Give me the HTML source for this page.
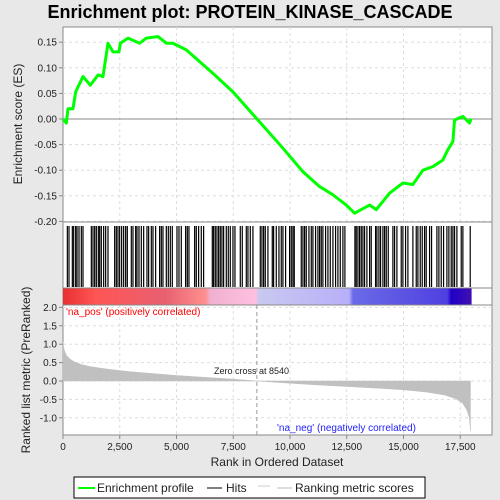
<!DOCTYPE html>
<html><head><meta charset="utf-8"><style>
html,body{margin:0;padding:0;background:#e8e8e8;}
svg{display:block;font-family:"Liberation Sans","DejaVu Sans",sans-serif;}
</style></head><body>
<svg id="chart" width="500" height="500" viewBox="0 0 500 500">
<defs>
<linearGradient id="cbar" x1="0" x2="1" y1="0" y2="0">
<stop offset="0" stop-color="#e83030"/><stop offset="0.08" stop-color="#ff5555"/><stop offset="0.25" stop-color="#e86070"/><stop offset="0.35" stop-color="#ff9090"/><stop offset="0.36" stop-color="#f0b0d0"/><stop offset="0.47" stop-color="#ffc0e0"/><stop offset="0.48" stop-color="#c8c8f0"/><stop offset="0.7" stop-color="#b8b0f8"/><stop offset="0.71" stop-color="#6a6ae8"/><stop offset="0.94" stop-color="#5040e0"/><stop offset="0.95" stop-color="#2000c8"/><stop offset="1" stop-color="#4010b0"/>
</linearGradient>
</defs>
<text x="250" y="18" text-anchor="middle" font-size="18" font-weight="bold" fill="#000">Enrichment plot: PROTEIN_KINASE_CASCADE</text>
<rect x="63" y="27" width="429" height="408" fill="#fff" stroke="#888"/>
<g id="grid"></g>
<g id="es"></g>
<g id="hits"></g>
<rect x="63" y="288" width="408.6" height="17" fill="url(#cbar)"/>
<line x1="63" y1="222" x2="492" y2="222" stroke="#888"/>
<line x1="63" y1="288" x2="492" y2="288" stroke="#888"/>
<line x1="63" y1="305" x2="492" y2="305" stroke="#888"/>
<g id="metric"></g>
<g id="axes"></g>
<text x="66" y="315" font-size="10" fill="#f00">'na_pos' (positively correlated)</text>
<text x="277" y="431" font-size="10" fill="#22f">'na_neg' (negatively correlated)</text>
<text x="214" y="374" font-size="9" fill="#222">Zero cross at 8540</text>
<text x="277" y="466" text-anchor="middle" font-size="12" fill="#222">Rank in Ordered Dataset</text>
<text transform="translate(22,124) rotate(-90)" text-anchor="middle" font-size="12" fill="#222">Enrichment score (ES)</text>
<text transform="translate(30,370) rotate(-90)" text-anchor="middle" font-size="12" fill="#222">Ranked list metric (PreRanked)</text>
<g>
<rect x="74" y="477" width="351" height="21" fill="#fff" stroke="#000"/>
<line x1="78" y1="488" x2="95" y2="488" stroke="#0f0" stroke-width="2"/>
<text x="97" y="492" font-size="12" fill="#222">Enrichment profile</text>
<line x1="207" y1="488" x2="222" y2="488" stroke="#000"/>
<text x="226" y="492" font-size="12" fill="#222">Hits</text>
<line x1="258" y1="486" x2="270" y2="486" stroke="#ccc"/>
<line x1="277" y1="488" x2="292" y2="488" stroke="#bbb"/>
<text x="295" y="492" font-size="12" fill="#222">Ranking metric scores</text>
</g>
</svg>
<script>
const esRanks=[0,147,220,440,558,881,1204,1541,1762,1982,2202,2466,2525,2863,3376,3670,4184,4551,4844,5432,6019,6606,7487,8588,9689,10570,11304,11891,12478,12845,13506,13799,14386,14680,14974,15414,15854,16295,16735,16955,17176,17249,17616,17910,17983];
const esValues=[0,-0.008,0.02,0.02,0.053,0.083,0.066,0.086,0.083,0.148,0.131,0.131,0.148,0.158,0.148,0.158,0.161,0.148,0.148,0.135,0.112,0.089,0.053,-0.002,-0.057,-0.103,-0.132,-0.148,-0.168,-0.184,-0.168,-0.177,-0.145,-0.135,-0.125,-0.128,-0.1,-0.093,-0.08,-0.06,-0.044,-0.002,0.005,-0.008,0.001];
const hitRanks=[191,264,411,470,558,617,705,807,881,1248,1321,1395,1468,1556,1615,1688,1791,1879,1982,2275,2349,2422,2496,2584,2672,2760,2833,3009,3083,3200,3259,3347,3450,3553,3699,3773,3890,3964,4081,4257,4331,4404,4551,4639,4727,4815,5021,5109,5211,5402,5476,5549,5799,5872,5975,6092,6195,6577,6635,6709,6782,6856,6929,7002,7076,7193,7281,7369,7487,7575,7810,7898,8074,8147,8250,8367,8691,8764,8838,8911,9028,9219,9278,9395,9513,9615,9689,9806,9982,10056,10129,10188,10496,10570,10643,10716,10834,10937,11010,11127,11230,11304,11377,11450,11568,11671,11774,11891,12008,12111,12214,12331,12419,12860,12918,12992,13065,13139,13212,13285,13388,13506,13579,13770,13829,13917,13990,14093,14166,14240,14328,14533,14607,14710,14900,14974,15091,15194,15414,15561,15634,15737,15825,15928,16001,16148,16236,16471,16559,16662,16765,16912,16999,17102,17176,17249,17352,17543,17616,17939];
const metricRanks=[0,50,150,300,500,800,1200,2000,3000,4000,5000,6000,7500,8540,10000,11000,12500,14000,15000,16000,16800,17300,17600,17800,17900,17950];
const metricValues=[1.05,0.85,0.7,0.6,0.52,0.45,0.39,0.32,0.25,0.2,0.15,0.11,0.05,0,-0.06,-0.1,-0.15,-0.2,-0.24,-0.3,-0.38,-0.48,-0.6,-0.8,-1.0,-1.35];
const xTicks=[0,2500,5000,7500,10000,12500,15000,17500];
const xTickLabels=["0","2,500","5,000","7,500","10,000","12,500","15,000","17,500"];
const esTicks=[0.15,0.10,0.05,0.00,-0.05,-0.10,-0.15,-0.20];
const esTickLabels=["0.15","0.10","0.05","0.00","-0.05","-0.10","-0.15","-0.20"];
const mTicks=[2.0,1.5,1.0,0.5,0.0,-0.5,-1.0];
const mTickLabels=["2.0","1.5","1.0","0.5","0.0","-0.5","-1.0"];
const zeroCross=8540;

const NS="http://www.w3.org/2000/svg";
const BOTTOM=435;
const xS=r=>63+r*0.02270;
const esY=v=>119-v*512;
const mY=v=>381-v*36.8;
function mk(tag,attrs,parent){const e=document.createElementNS(NS,tag);for(const k in attrs)e.setAttribute(k,attrs[k]);parent.appendChild(e);return e;}
const grid=document.getElementById('grid'),axes=document.getElementById('axes');
xTicks.forEach((t,i)=>{
  const x=xS(t);
  if(t>0){
    const g1=mk('line',{x1:x,y1:27,x2:x,y2:222,stroke:'#ddd','stroke-dasharray':'3,3'},grid);
    
    
    const g2=mk('line',{x1:x,y1:305,x2:x,y2:BOTTOM,stroke:'#ddd','stroke-dasharray':'3,3'},grid);
    
    
  }
  mk('line',{x1:x,y1:BOTTOM,x2:x,y2:BOTTOM+4,stroke:'#888'},axes);
  const tl=mk('text',{x:x,y:450,'text-anchor':'middle','font-size':'10',fill:'#222'},axes);
  tl.textContent=xTickLabels[i];
  
  
});
esTicks.forEach((t,i)=>{
  const y=esY(t);
  const g=mk('line',{x1:63,y1:y,x2:492,y2:y,stroke:'#ddd','stroke-dasharray':'3,3'},grid);
  
  
  mk('line',{x1:59,y1:y,x2:63,y2:y,stroke:'#888'},axes);
  const tl=mk('text',{x:57,y:y+3.5,'text-anchor':'end','font-size':'10',fill:'#222'},axes);
  tl.textContent=esTickLabels[i];
  
  
});
mTicks.forEach((t,i)=>{
  const y=mY(t);
  const g=mk('line',{x1:63,y1:y,x2:492,y2:y,stroke:'#ddd','stroke-dasharray':'3,3'},grid);
  
  
  mk('line',{x1:59,y1:y,x2:63,y2:y,stroke:'#888'},axes);
  const tl=mk('text',{x:57,y:y+3.5,'text-anchor':'end','font-size':'10',fill:'#222'},axes);
  tl.textContent=mTickLabels[i];
  
  
});
const zl=mk('line',{x1:63,y1:esY(0),x2:492,y2:esY(0),stroke:'#888'},grid);


const zc=mk('line',{x1:xS(zeroCross),y1:305,x2:xS(zeroCross),y2:BOTTOM,stroke:'#999','stroke-dasharray':'4,3'},grid);



const es=document.getElementById('es');
const path=mk('polyline',{points:esRanks.map((r,i)=>xS(r)+','+esY(esValues[i])).join(' '),fill:'none',stroke:'#0f0','stroke-width':'3','stroke-linejoin':'round'},es);



const hits=document.getElementById('hits');
hitRanks.forEach(r=>{
  const l=mk('line',{x1:xS(r),y1:226,x2:xS(r),y2:287,stroke:'#000','stroke-width':'1.2'},hits);
  
  
});

const metric=document.getElementById('metric');
let pts=[xS(metricRanks[0])+','+mY(0)];
metricRanks.forEach((r,i)=>pts.push(xS(r)+','+mY(metricValues[i])));
pts.push(xS(metricRanks[metricRanks.length-1])+','+mY(0));
const area=mk('polygon',{points:pts.join(' '),fill:'#c0c0c0',stroke:'#c0c0c0','stroke-width':'0.5'},metric);


</script>
</body></html>
